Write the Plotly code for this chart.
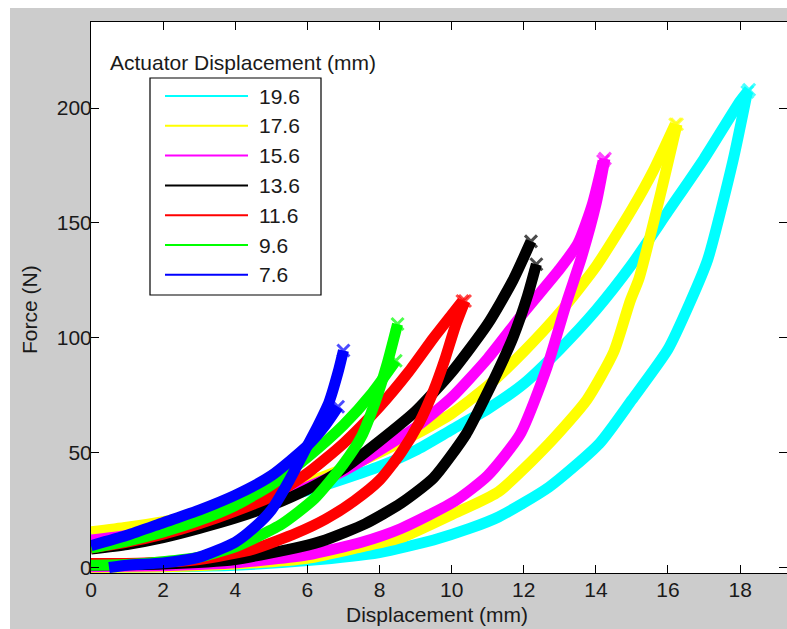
import plotly.graph_objects as go

# ---------------- data ----------------
labels = ["19.6", "17.6", "15.6", "13.6", "11.6", "9.6", "7.6"]
colors = ["#00ffff", "#ffff00", "#ff00ff", "#000000", "#ff0000", "#00ff00", "#0000ff"]

# 19.6 mm (cyan)
s196_up_x = [0, 1, 2, 3, 4, 5, 6, 7, 8, 9, 10, 11, 12, 13, 14, 15, 16, 17, 18, 18.25]
s196_up_y = [14, 16, 18.5, 21.5, 25, 29, 33.5, 38.5, 44, 51, 60, 69, 80, 95, 112, 132, 155, 178, 203, 208]
s196_lo_x = [0, 2, 4, 6, 8, 9.5, 10.5, 11.3, 12.7, 14.1, 15, 16, 16.6, 17.1, 17.8, 18.2]
s196_lo_y = [0, 0.3, 1, 3, 6.5, 12, 17, 22, 35, 54, 73, 95, 115, 134, 177, 207]

# 17.6 mm (yellow)
s176_up_x = [0, 1, 2, 3, 4, 5, 6, 7, 8, 9, 10, 11, 12, 13, 14, 15, 15.6, 16.2]
s176_up_y = [15.5, 17.5, 20, 23, 27, 31.5, 37, 43, 50, 58, 67, 79, 94, 111, 131, 156, 173, 193]
s176_lo_x = [0, 2, 4, 6, 7.5, 8.6, 10, 11.3, 12.7, 13.75, 14.5, 14.95, 15.2, 15.86, 16.25]
s176_lo_y = [0, 0.3, 1.5, 4, 9, 13, 23, 33, 54, 73, 94, 116, 126, 167, 193]

# 15.6 mm (magenta)
s156_up_x = [0, 1, 2, 3, 4, 5, 6, 7, 8, 9, 10, 11, 12, 13, 13.5, 13.9, 14.2]
s156_up_y = [12, 14, 17, 20.5, 24.5, 29, 35, 42, 51, 61, 74, 91, 111, 130, 141, 158, 177]
s156_lo_x = [0, 2, 4, 6, 7.5, 8.6, 10.1, 11, 11.9, 12.64, 13.2, 13.6, 14.0, 14.25]
s156_lo_y = [0.3, 0.8, 2, 5.5, 11, 17, 29, 40, 58, 87, 116, 135, 158, 178]

# 13.6 mm (black)
s136_up_x = [0, 1, 2, 3, 4, 5, 6, 7, 8, 9, 10, 11, 11.7, 12.2]
s136_up_y = [8, 10, 13, 17, 21.5, 27, 34, 43, 55, 68, 85, 106, 125, 142]
s136_lo_x = [0, 2, 4, 5.8, 6.5, 7.6, 8.6, 9.5, 10.4, 10.8, 11.3, 11.7, 12.1, 12.35]
s136_lo_y = [1, 1.5, 3.5, 9, 12, 19, 28, 39, 58, 70, 86, 100, 118, 132]

# 11.6 mm (red)
s116_up_x = [0, 1, 2, 3, 4, 5, 6, 7, 8, 8.8, 9.5, 10, 10.3]
s116_up_y = [8.5, 11, 14.5, 19, 24.5, 31, 41, 54, 70, 85, 100, 110, 116]
s116_lo_x = [0, 1.5, 3, 4.5, 5.7, 6.5, 7.3, 8.0, 8.6, 9.1, 9.5, 9.8, 10.1, 10.37]
s116_lo_y = [1.7, 2, 3.5, 8, 15, 21, 29, 38, 50, 63, 77, 90, 105, 116]

# 9.6 mm (green)
s96_up_x = [0, 1, 2, 3, 4, 5, 6, 7, 7.8, 8.45]
s96_up_y = [8.5, 11.5, 15.5, 20.5, 27, 36, 48, 62, 76, 90]
s96_lo_x = [0, 1, 2, 3, 4, 4.5, 5.3, 6.2, 7.0, 7.5, 7.9, 8.2, 8.5]
s96_lo_y = [1, 1.3, 2.5, 4.5, 9, 12.5, 19, 30, 45, 57, 73, 88, 106]

# 7.6 mm (blue)
s76_up_x = [0, 1, 2, 3, 4, 5, 6, 6.5, 6.85]
s76_up_y = [9.5, 14, 19.5, 25, 31.5, 40, 53, 62, 70]
s76_lo_x = [0.5, 1, 2, 3, 4, 4.5, 5, 5.5, 6, 6.3, 6.6, 6.85, 7.0]
s76_lo_y = [0, 1, 2, 4.5, 11, 17, 25, 38, 53, 62, 72, 85, 94.5]

x_ticks = [0, 2, 4, 6, 8, 10, 12, 14, 16, 18]
y_ticks = [0, 50, 100, 150, 200]

branches = [
    (s196_up_x, s196_up_y, s196_lo_x, s196_lo_y),
    (s176_up_x, s176_up_y, s176_lo_x, s176_lo_y),
    (s156_up_x, s156_up_y, s156_lo_x, s156_lo_y),
    (s136_up_x, s136_up_y, s136_lo_x, s136_lo_y),
    (s116_up_x, s116_up_y, s116_lo_x, s116_lo_y),
    (s96_up_x, s96_up_y, s96_lo_x, s96_lo_y),
    (s76_up_x, s76_up_y, s76_lo_x, s76_lo_y),
]

# ---------------- layout constants ----------------
W, H = 787, 629
ML, MR, MT, MB = 91, 0, 22, 56
PW, PH = W - ML - MR, H - MT - MB
FONT = "Liberation Sans, Arial, Helvetica, sans-serif"
TXT = "#1a1a1a"
GREY = "#cccccc"


def px_x(p):
    return (p - ML) / PW


def px_y(p):
    return (H - MB - p) / PH


fig = go.Figure()

for (ux, uy, lx, ly), c, lab in zip(branches, colors, labels):
    for xs, ys in ((ux, uy), (lx, ly)):
        sizes = [0] * (len(xs) - 1) + [12]
        fig.add_trace(go.Scatter(
            x=xs, y=ys, mode="lines+markers",
            line=dict(color=c, width=11, shape="spline", smoothing=0.6),
            marker=dict(symbol="x-thin", size=sizes, color=c, line=dict(color=c, width=3)),
            showlegend=False, name=lab, hoverinfo="skip",
        ))

# ---------------- manual MATLAB-style legend (pixel overlay axes) ----------------
leg_x0, leg_x1, leg_y0, leg_y1 = 150, 321, 78, 295
row0, row_step = 96, 29.8
line_x0, line_x1, mark_x, text_x = 165, 248, 207, 257

shapes = [
    dict(type="rect", xref="x2", yref="y2", x0=leg_x0, x1=leg_x1, y0=leg_y0, y1=leg_y1,
         line=dict(color="#000000", width=1.2), fillcolor="white", layer="above"),
    dict(type="rect", xref="paper", yref="paper", x0=px_x(0), x1=px_x(W), y0=px_y(8), y1=px_y(0),
         line=dict(width=0), fillcolor="white", layer="below"),
    dict(type="rect", xref="paper", yref="paper", x0=px_x(0), x1=px_x(10), y0=px_y(H), y1=px_y(0),
         line=dict(width=0), fillcolor="white", layer="below"),
]
annotations = [
    dict(text="Actuator Displacement (mm)", xref="x2", yref="y2", x=108, y=62,
         xanchor="left", yanchor="middle", showarrow=False,
         font=dict(family=FONT, size=21, color=TXT)),
    dict(text="Force (N)", xref="paper", yref="paper", x=px_x(29), y=px_y(310),
         xanchor="center", yanchor="middle", textangle=-90, showarrow=False,
         font=dict(family=FONT, size=21, color=TXT)),
    dict(text="Displacement (mm)", xref="paper", yref="paper", x=px_x(437), y=px_y(614),
         xanchor="center", yanchor="middle", showarrow=False,
         font=dict(family=FONT, size=21, color=TXT)),
]
mk_x, mk_y, mk_c = [], [], []
for i, (c, lab) in enumerate(zip(colors, labels)):
    ry = row0 + i * row_step
    shapes.append(dict(type="line", xref="x2", yref="y2", x0=line_x0, x1=line_x1, y0=ry, y1=ry,
                       line=dict(color=c, width=2), layer="above"))
    annotations.append(dict(text=lab, xref="x2", yref="y2", x=text_x, y=ry,
                            xanchor="left", yanchor="middle", showarrow=False,
                            font=dict(family=FONT, size=21, color=TXT)))
    mk_x.append(mark_x)
    mk_y.append(ry)
    mk_c.append(c)

fig.add_trace(go.Scatter(
    x=mk_x, y=mk_y, xaxis="x2", yaxis="y2", mode="markers",
    marker=dict(symbol="x-thin", size=7, color=mk_c, line=dict(color=mk_c, width=2)),
    showlegend=False, hoverinfo="skip",
))

axis_common = dict(
    showline=True, linecolor="#000000", linewidth=1, mirror="ticks",
    ticks="inside", ticklen=8, tickwidth=1, tickcolor="#000000",
    showgrid=False, zeroline=False,
    tickfont=dict(family=FONT, size=21, color=TXT),
)

fig.update_layout(
    width=W, height=H,
    margin=dict(l=ML, r=MR, t=MT, b=MB, pad=0),
    paper_bgcolor=GREY, plot_bgcolor="white",
    showlegend=False,
    xaxis=dict(range=[0, 19.3], tickvals=x_ticks, ticktext=[str(v) for v in x_ticks],
               ticklabelstandoff=-2, **axis_common),
    yaxis=dict(range=[-2.4, 237.5], tickvals=y_ticks, ticktext=[str(v) for v in y_ticks],
               ticklabelstandoff=-6, **axis_common),
    xaxis2=dict(overlaying="x", range=[ML, W - MR], visible=False, fixedrange=True),
    yaxis2=dict(overlaying="y", range=[H - MB, MT], visible=False, fixedrange=True),
    shapes=shapes,
    annotations=annotations,
)

fig.write_html("out.html")
